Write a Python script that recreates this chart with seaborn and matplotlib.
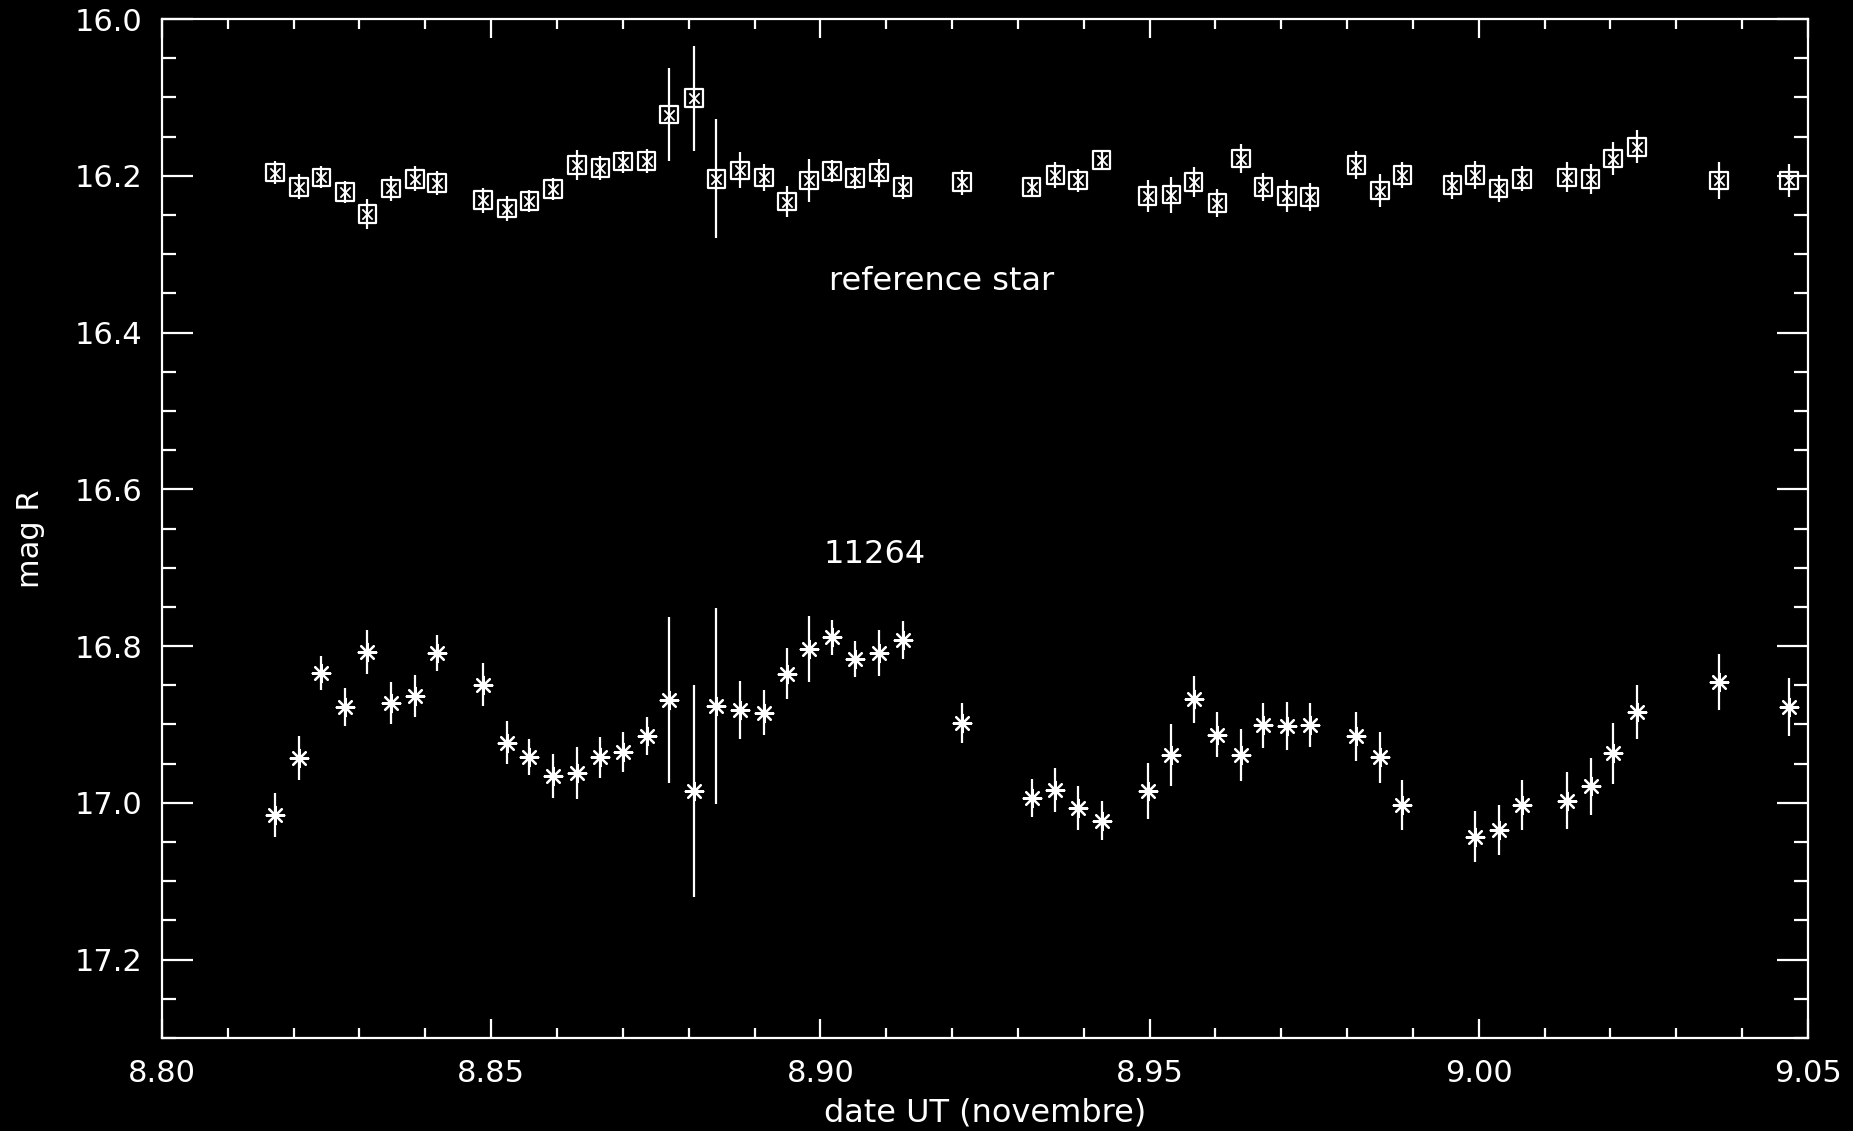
import numpy as np
import pandas as pd
import matplotlib
matplotlib.use("Agg")
import matplotlib.pyplot as plt
from matplotlib.ticker import MultipleLocator, FormatStrFormatter
import seaborn as sns

# ---- data ----
time = [8.8172, 8.8208, 8.8242, 8.8278, 8.8312, 8.8348, 8.8384, 8.8418,
        8.8488, 8.8524, 8.8558, 8.8594, 8.8630, 8.8666, 8.8700, 8.8736,
        8.8770, 8.8808, 8.8842, 8.8878, 8.8914, 8.8949, 8.8983, 8.9018,
        8.9053, 8.9089, 8.9125, 8.9215, 8.9321, 8.9357, 8.9391, 8.9427,
        8.9497, 8.9533, 8.9567, 8.9603, 8.9639, 8.9673, 8.9709, 8.9743,
        8.9814, 8.9850, 8.9884, 8.9960, 8.9994, 9.0030, 9.0066, 9.0134,
        9.0170, 9.0204, 9.0240, 9.0365, 9.0471]

ref_mag = [16.196, 16.214, 16.202, 16.221, 16.249, 16.216, 16.204, 16.209,
           16.231, 16.242, 16.232, 16.217, 16.186, 16.190, 16.182, 16.181,
           16.122, 16.101, 16.204, 16.193, 16.202, 16.233, 16.206, 16.194,
           16.203, 16.196, 16.214, 16.208, 16.214, 16.199, 16.206, 16.180,
           16.226, 16.224, 16.208, 16.235, 16.178, 16.214, 16.226, 16.227,
           16.186, 16.219, 16.199, 16.212, 16.199, 16.216, 16.204, 16.202,
           16.204, 16.178, 16.163, 16.206, 16.206]

ref_err = [0.015, 0.016, 0.014, 0.014, 0.019, 0.016, 0.016, 0.015,
           0.016, 0.016, 0.014, 0.014, 0.019, 0.015, 0.014, 0.015,
           0.059, 0.067, 0.076, 0.023, 0.017, 0.020, 0.028, 0.014,
           0.014, 0.018, 0.015, 0.016, 0.013, 0.016, 0.015, 0.013,
           0.020, 0.023, 0.019, 0.018, 0.019, 0.018, 0.020, 0.018,
           0.018, 0.021, 0.017, 0.017, 0.018, 0.017, 0.016, 0.019,
           0.019, 0.021, 0.021, 0.023, 0.021]

obj_mag = [17.016, 16.943, 16.834, 16.878, 16.807, 16.873, 16.864, 16.809,
           16.849, 16.923, 16.941, 16.966, 16.962, 16.942, 16.935, 16.915,
           16.869, 16.985, 16.877, 16.881, 16.885, 16.835, 16.804, 16.789,
           16.817, 16.809, 16.792, 16.898, 16.994, 16.984, 17.007, 17.023,
           16.985, 16.939, 16.868, 16.913, 16.939, 16.901, 16.902, 16.901,
           16.915, 16.942, 17.003, np.nan, 17.043, 17.035, 17.003, 16.997,
           16.979, 16.937, 16.884, 16.846, 16.878]

obj_err = [0.028, 0.028, 0.022, 0.024, 0.028, 0.027, 0.027, 0.023,
           0.028, 0.027, 0.023, 0.028, 0.033, 0.026, 0.025, 0.024,
           0.106, 0.135, 0.125, 0.037, 0.029, 0.033, 0.042, 0.022,
           0.023, 0.029, 0.024, 0.026, 0.024, 0.028, 0.028, 0.025,
           0.036, 0.039, 0.030, 0.029, 0.033, 0.029, 0.031, 0.028,
           0.031, 0.033, 0.032, np.nan, 0.032, 0.032, 0.032, 0.036,
           0.036, 0.039, 0.034, 0.036, 0.037]

ref_label = "reference star"
obj_label = "11264"

df = pd.DataFrame({"time": time, "ref": ref_mag, "ref_err": ref_err,
                   "obj": obj_mag, "obj_err": obj_err})

# ---- style ----
sns.set_theme(style="ticks")
plt.rcParams["font.family"] = ["DejaVu Sans"]
plt.rcParams["axes.edgecolor"] = "white"
plt.rcParams["text.color"] = "white"
plt.rcParams["axes.labelcolor"] = "white"

fig = plt.figure(figsize=(18.53, 11.31), dpi=100, facecolor="black")
ax = fig.add_axes([0.0874, 0.0822, 0.8883, 0.901])
ax.set_facecolor("black")

lw = 1.6
# reference star
ax.errorbar(df["time"], df["ref"], yerr=df["ref_err"], fmt="none",
            ecolor="white", elinewidth=lw, capsize=0, zorder=2)
sns.scatterplot(data=df, x="time", y="ref", marker="s", s=160,
                fc="none", ec="white", linewidth=lw, ax=ax, zorder=3)
sns.scatterplot(data=df, x="time", y="ref", marker="x", s=55,
                color="white", linewidth=1.3, ax=ax, zorder=3)

# asteroid 11264
d2 = df.dropna(subset=["obj"])
ax.errorbar(d2["time"], d2["obj"], yerr=d2["obj_err"], fmt="none",
            ecolor="white", elinewidth=lw, capsize=0, zorder=2)
sns.scatterplot(data=d2, x="time", y="obj", marker=(8, 2, 0), s=160,
                color="white", linewidth=lw, ax=ax, zorder=3)

ax.text(8.9184, 16.335, ref_label, ha="center", va="center", fontsize=23,
        color="white")
ax.text(8.9082, 16.683, obj_label, ha="center", va="center", fontsize=23,
        color="white")

ax.set_xlim(8.80, 9.05)
ax.set_ylim(17.3, 16.0)
ax.xaxis.set_major_locator(MultipleLocator(0.05))
ax.xaxis.set_minor_locator(MultipleLocator(0.01))
ax.yaxis.set_major_locator(MultipleLocator(0.2))
ax.yaxis.set_minor_locator(MultipleLocator(0.05))
ax.xaxis.set_major_formatter(FormatStrFormatter("%.2f"))
ax.yaxis.set_major_formatter(FormatStrFormatter("%.1f"))

for s in ax.spines.values():
    s.set_color("white")
    s.set_linewidth(lw)

ax.tick_params(which="both", direction="in", top=True, right=True,
               colors="white", labelsize=22, width=lw)
ax.tick_params(axis="y", which="major", length=22, pad=14)
ax.tick_params(axis="y", which="minor", length=10)
ax.tick_params(axis="x", which="major", length=14, pad=15)
ax.tick_params(axis="x", which="minor", length=7)

ax.set_xlabel("date UT (novembre)", fontsize=23, color="white")
ax.set_ylabel("mag R", fontsize=22, color="white")
ax.xaxis.set_label_coords(0.5, -0.058)
ax.yaxis.set_label_coords(-0.071, 0.49)

fig.savefig("out.png", dpi=100, facecolor="black")
